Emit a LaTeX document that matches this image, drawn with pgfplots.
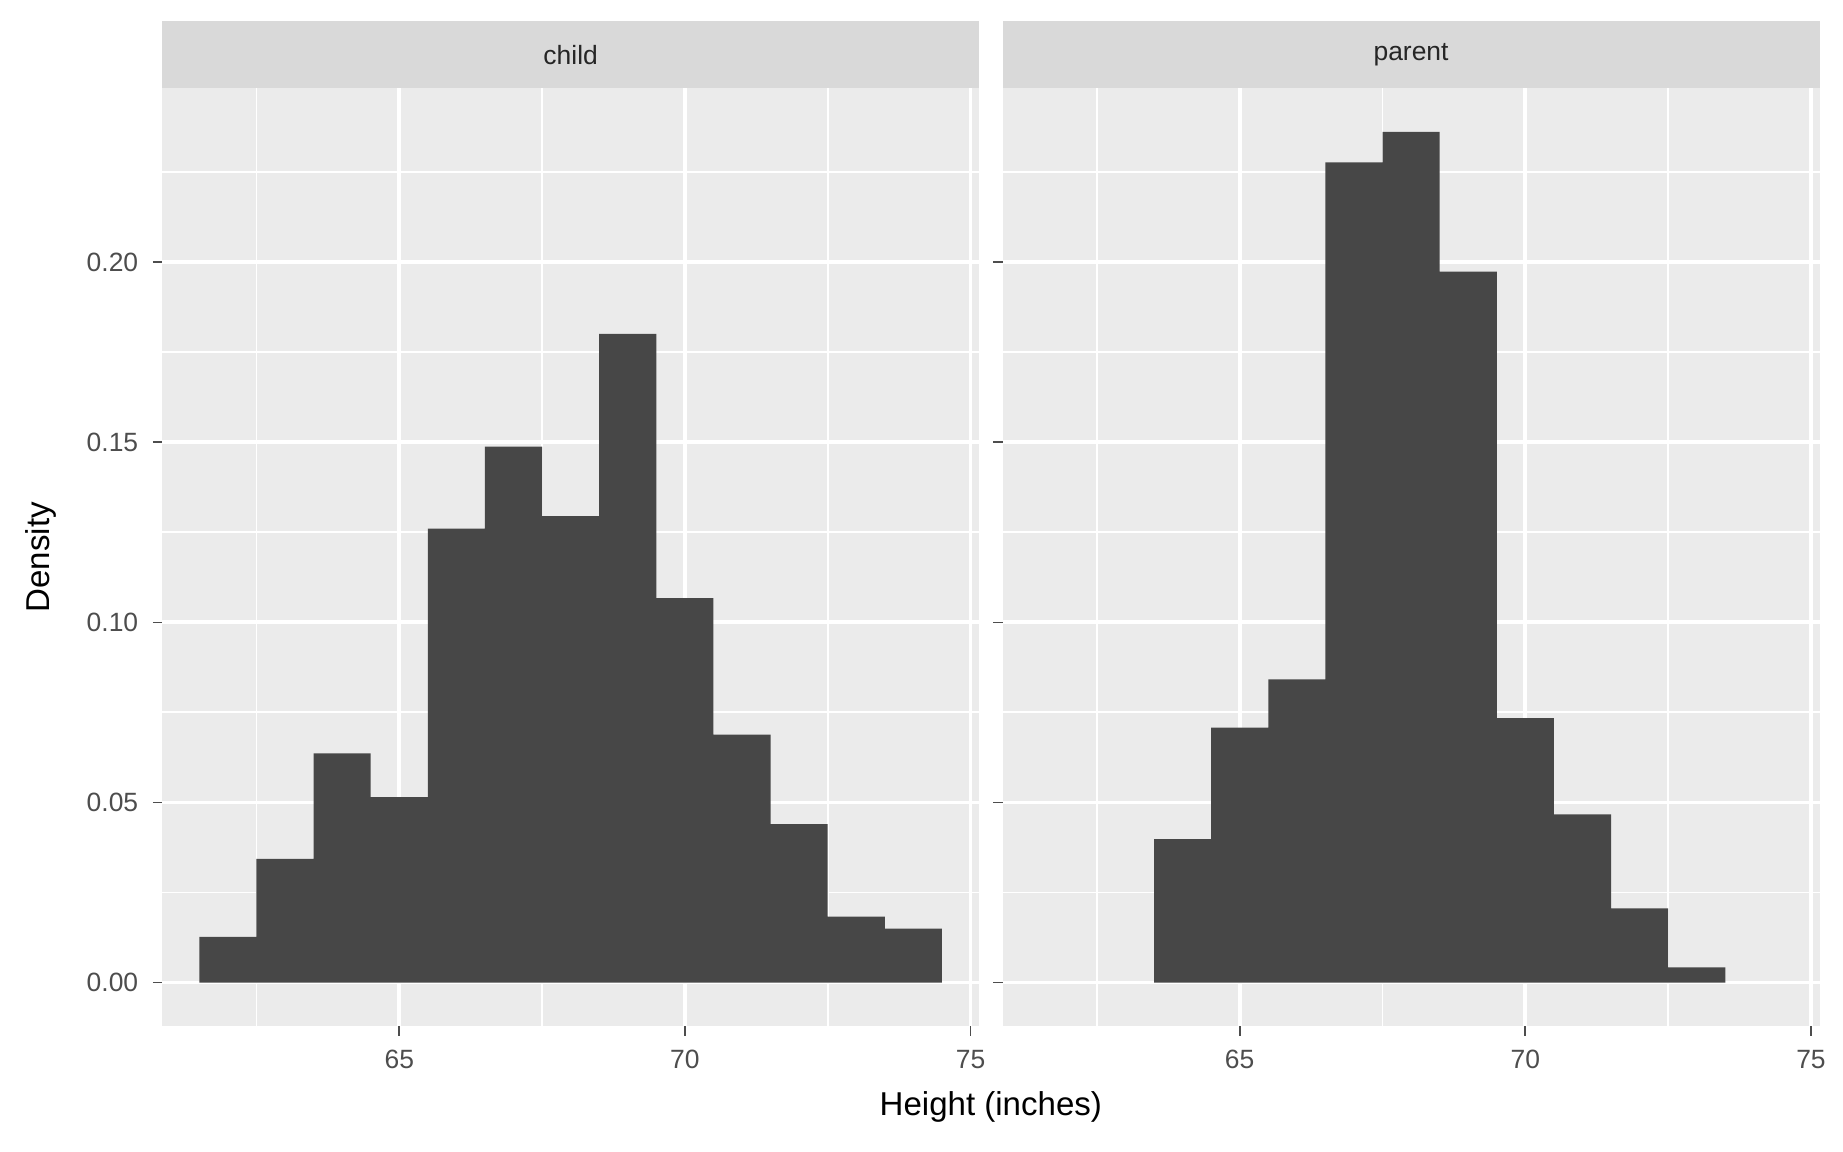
\documentclass[border=0pt]{standalone}
\usepackage{pgfplots}
\pgfplotsset{compat=1.18}
\usepackage{fontspec}
\setmainfont{Liberation Sans}
\definecolor{panel}{HTML}{EBEBEB}
\definecolor{strip}{HTML}{D9D9D9}
\definecolor{barc}{HTML}{474747}
\definecolor{tickc}{HTML}{4D4D4D}
\pgfplotsset{
 facet/.style={
  scale only axis, width=69.5mm, height=79.8mm,
  xmin=60.85, xmax=75.15, ymin=-0.0121, ymax=0.2483,
  axis background/.style={fill=panel},
  axis line style={draw=none},
  tick align=outside, xtick pos=lower, ytick pos=left,
  major tick length=0.8mm,
  tick style={draw=tickc, line width=0.4pt},
  xtick={65,70,75}, minor xtick={62.5,67.5,72.5},
  ytick={0,0.05,0.1,0.15,0.2}, minor ytick={0.025,0.075,0.125,0.175,0.225},
  minor tick length=0pt,
  grid=both,
  major grid style={white, line width=0.9pt},
  minor grid style={white, line width=0.45pt},
  ticklabel style={font=\fontsize{6.4}{7}\selectfont, text=tickc},
  /pgf/number format/assume math mode=true,
  clip=false,
 }
}
\begin{document}
\begin{tikzpicture}
\path[use as bounding box] (0,0) rectangle (156.8mm,98mm);
\begin{axis}[facet, at={(13.8mm,10.7mm)},
  yticklabel style={/pgf/number format/fixed,/pgf/number format/fixed zerofill,/pgf/number format/precision=2}]
\fill[strip] (rel axis cs:0,1) rectangle ([yshift=5.7mm]rel axis cs:1,1);
\node[font=\fontsize{6.4}{7}\selectfont, text=black!85] at ([yshift=2.85mm]rel axis cs:0.5,1) {child};
\addplot[ybar interval, fill=barc, draw=none] coordinates {
(61.5,0.0127)(62.5,0.0343)(63.5,0.0636)(64.5,0.0515)(65.5,0.126)(66.5,0.1488)
(67.5,0.1295)(68.5,0.1801)(69.5,0.1067)(70.5,0.0688)(71.5,0.0440)(72.5,0.0183)
(73.5,0.0150)(74.5,0.0150)};
\end{axis}
\begin{axis}[facet, at={(85.3mm,10.7mm)}, yticklabels={}]
\fill[strip] (rel axis cs:0,1) rectangle ([yshift=5.7mm]rel axis cs:1,1);
\node[font=\fontsize{6.4}{7}\selectfont, text=black!85] at ([yshift=2.85mm]rel axis cs:0.5,1) {parent};
\addplot[ybar interval, fill=barc, draw=none] coordinates {
(63.5,0.0398)(64.5,0.0708)(65.5,0.0842)(66.5,0.2277)(67.5,0.2362)(68.5,0.1974)
(69.5,0.0734)(70.5,0.0467)(71.5,0.0206)(72.5,0.0042)(73.5,0.0042)};
\end{axis}
\node[font=\fontsize{8}{9}\selectfont] at (84.3mm,3.8mm) {Height (inches)};
\node[font=\fontsize{8}{9}\selectfont, rotate=90] at (3.5mm,50.6mm) {Density};
\end{tikzpicture}
\end{document}
